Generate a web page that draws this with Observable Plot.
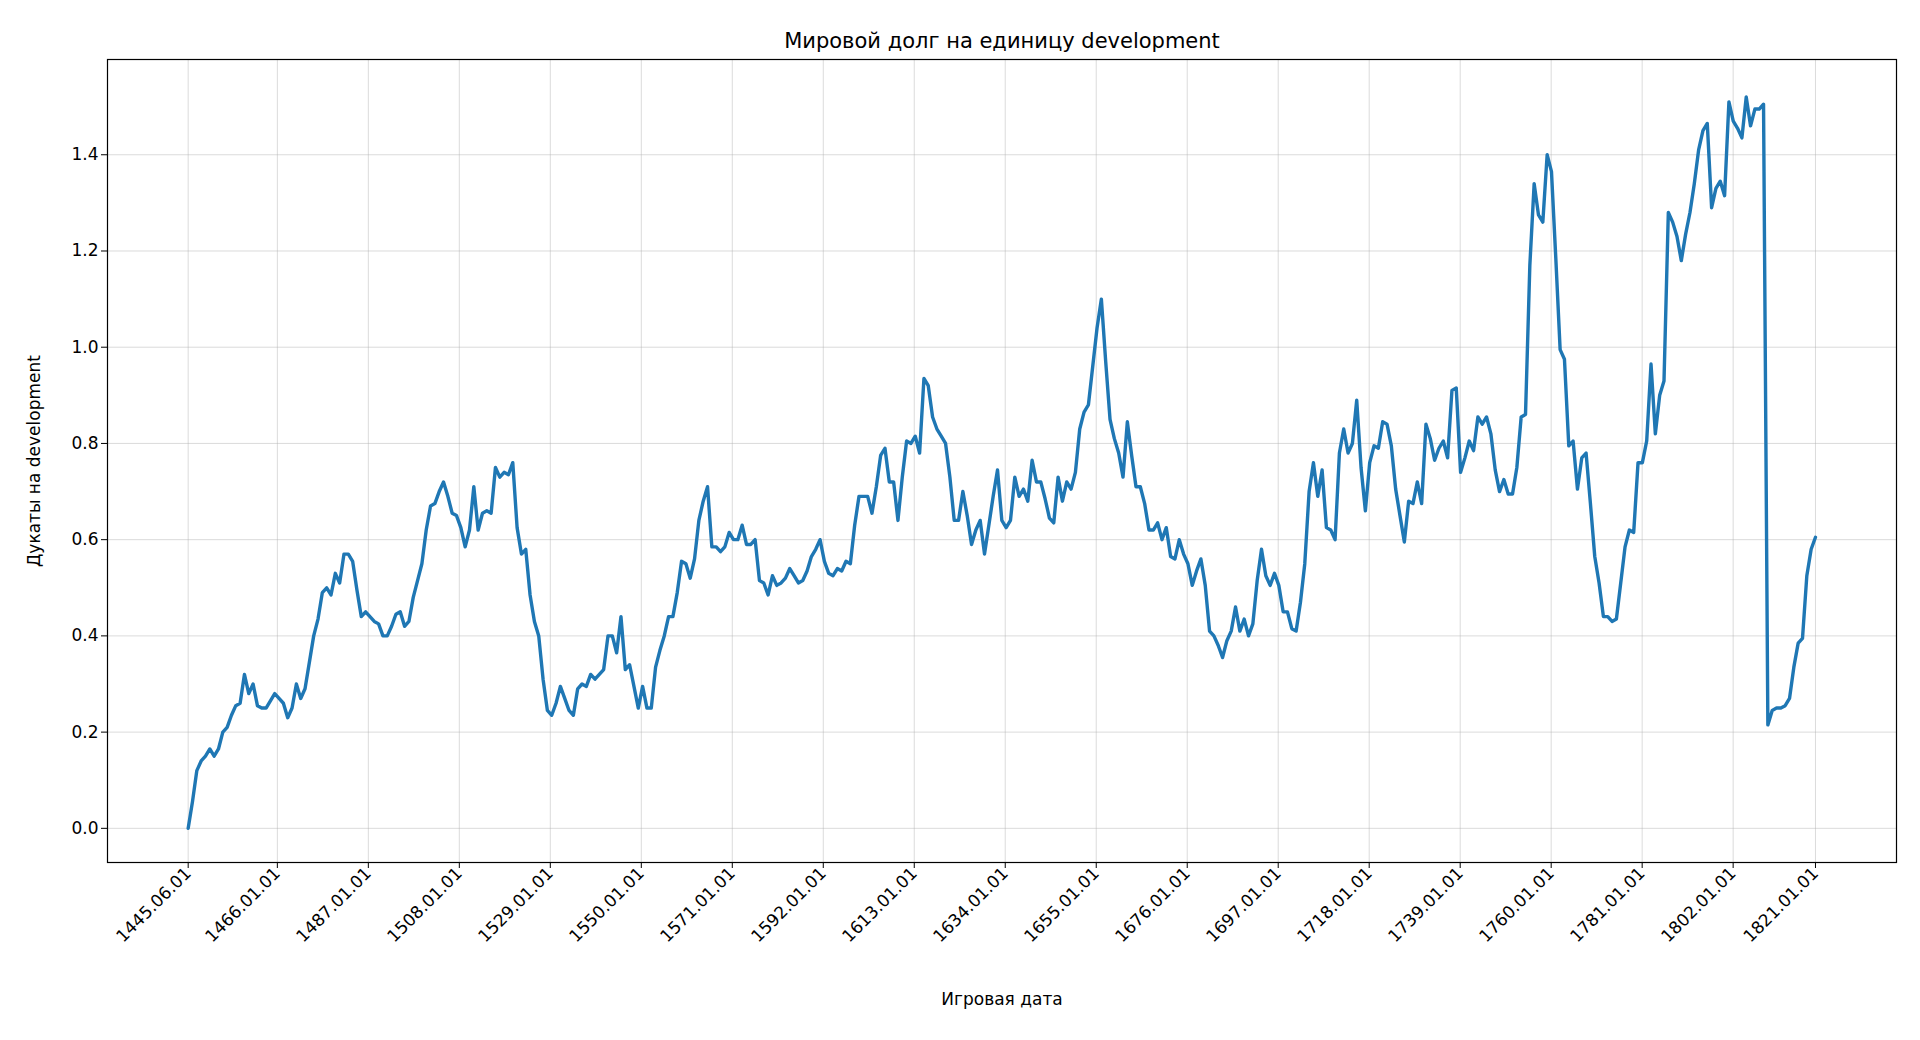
<!DOCTYPE html>
<html><head><meta charset="utf-8">
<script src="https://cdn.jsdelivr.net/npm/d3@7"></script>
<script src="https://cdn.jsdelivr.net/npm/@observablehq/plot@0.6"></script>
<style>body{margin:0;background:#fff;font-family:"DejaVu Sans",sans-serif}</style>
</head><body><div id="chart"></div>
<script>
const startYear = 1445.42, endYear = 1821.0;
const values = [0.00,0.056,0.12,0.14,0.15,0.165,0.15,0.165,0.20,0.21,0.235,0.255,0.26,0.32,0.28,0.30,0.255,0.25,0.25,0.265,0.28,0.27,0.26,0.23,0.25,0.30,0.27,0.29,0.345,0.40,0.435,0.49,0.50,0.485,0.53,0.51,0.57,0.57,0.555,0.495,0.44,0.45,0.44,0.43,0.425,0.40,0.40,0.42,0.445,0.45,0.42,0.43,0.48,0.515,0.55,0.62,0.67,0.675,0.70,0.72,0.69,0.655,0.65,0.625,0.585,0.62,0.71,0.62,0.655,0.66,0.655,0.75,0.73,0.74,0.735,0.76,0.625,0.57,0.58,0.485,0.43,0.40,0.31,0.245,0.235,0.26,0.295,0.27,0.245,0.235,0.29,0.30,0.295,0.32,0.31,0.32,0.33,0.40,0.40,0.365,0.44,0.33,0.34,0.295,0.25,0.295,0.25,0.25,0.335,0.37,0.40,0.44,0.44,0.49,0.555,0.55,0.52,0.56,0.64,0.68,0.71,0.585,0.585,0.575,0.585,0.615,0.60,0.60,0.63,0.59,0.59,0.60,0.515,0.51,0.485,0.525,0.505,0.51,0.52,0.54,0.525,0.51,0.515,0.535,0.565,0.58,0.60,0.555,0.53,0.525,0.54,0.535,0.555,0.55,0.63,0.69,0.69,0.69,0.655,0.71,0.775,0.79,0.72,0.72,0.64,0.73,0.805,0.80,0.815,0.78,0.935,0.92,0.855,0.83,0.815,0.80,0.73,0.64,0.64,0.70,0.65,0.59,0.62,0.64,0.57,0.63,0.69,0.745,0.64,0.625,0.64,0.73,0.69,0.705,0.68,0.765,0.72,0.72,0.685,0.645,0.635,0.73,0.68,0.72,0.705,0.74,0.83,0.865,0.88,0.96,1.04,1.10,0.97,0.85,0.81,0.78,0.73,0.845,0.775,0.71,0.71,0.675,0.62,0.62,0.635,0.60,0.625,0.565,0.56,0.60,0.57,0.55,0.505,0.535,0.56,0.505,0.41,0.40,0.38,0.355,0.39,0.41,0.46,0.41,0.435,0.40,0.425,0.515,0.58,0.525,0.505,0.53,0.505,0.45,0.45,0.415,0.41,0.47,0.55,0.70,0.76,0.69,0.745,0.625,0.62,0.60,0.78,0.83,0.78,0.80,0.89,0.75,0.66,0.76,0.795,0.79,0.845,0.84,0.795,0.705,0.65,0.595,0.68,0.675,0.72,0.675,0.84,0.81,0.765,0.79,0.805,0.77,0.91,0.915,0.74,0.77,0.805,0.785,0.855,0.84,0.855,0.82,0.745,0.70,0.725,0.695,0.695,0.75,0.855,0.86,1.17,1.34,1.275,1.26,1.40,1.365,1.185,0.995,0.975,0.795,0.805,0.705,0.77,0.78,0.675,0.565,0.51,0.44,0.44,0.43,0.435,0.51,0.585,0.62,0.615,0.76,0.76,0.805,0.965,0.82,0.90,0.93,1.28,1.26,1.23,1.18,1.235,1.28,1.34,1.41,1.45,1.465,1.29,1.33,1.345,1.315,1.51,1.47,1.455,1.435,1.52,1.46,1.495,1.495,1.505,0.215,0.245,0.25,0.25,0.255,0.27,0.335,0.385,0.395,0.525,0.58,0.605];
const tickYears = [1445.42,1466,1487,1508,1529,1550,1571,1592,1613,1634,1655,1676,1697,1718,1739,1760,1781,1802,1821];
const tickLabels = ["1445.06.01","1466.01.01","1487.01.01","1508.01.01","1529.01.01","1550.01.01","1571.01.01","1592.01.01","1613.01.01","1634.01.01","1655.01.01","1676.01.01","1697.01.01","1718.01.01","1739.01.01","1760.01.01","1781.01.01","1802.01.01","1821.01.01"];
const yTicks = [0,0.2,0.4,0.6,0.8,1.0,1.2,1.4];

const n = values.length;
const data = values.map((v,i)=>({year: startYear + (endYear-startYear)*i/(n-1), v}));
const labelOf = new Map(tickYears.map((t,i)=>[t,tickLabels[i]]));

const chart = Plot.plot({
  width:1920, height:1040,
  marginTop:59, marginLeft:107, marginRight:24, marginBottom:178,
  style:{fontFamily:"DejaVu Sans", fontSize:"17px", background:"#fff"},
  x:{domain:[1426.8,1839.7]},
  y:{domain:[-0.071,1.598]},
  marks:[
    Plot.gridX(tickYears,{stroke:"#b0b0b0", strokeOpacity:0.45}),
    Plot.gridY(yTicks,{stroke:"#b0b0b0", strokeOpacity:0.45}),
    Plot.axisX(tickYears,{tickFormat:d=>labelOf.get(d), tickRotate:-45, tickSize:6, fontSize:17, label:"Игровая дата", labelAnchor:"center", labelArrow:"none", labelOffset:142, tickPadding:2}),
    Plot.axisY(yTicks,{tickFormat:d3.format(".1f"), tickSize:6, fontSize:17, label:"Дукаты на development", labelAnchor:"center", labelArrow:"none", labelOffset:80}),
    Plot.line(data,{x:"year", y:"v", stroke:"#1f77b4", strokeWidth:3.4, strokeLinejoin:"round"}),
    Plot.frame({stroke:"#000", strokeWidth:1.2}),
    Plot.text(["Мировой долг на единицу development"],{frameAnchor:"top", dy:-26, fontSize:21, fill:"#000"})
  ]
});
document.getElementById("chart").append(chart);
</script></body></html>
